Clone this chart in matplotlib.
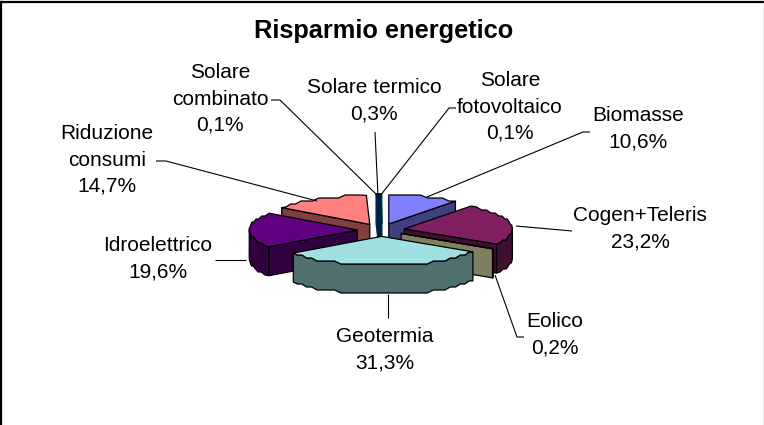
import numpy as np
import matplotlib
matplotlib.use("Agg")
import matplotlib.pyplot as plt
from matplotlib.patches import Polygon

plt.rcParams['font.family'] = ['Liberation Sans', 'DejaVu Sans']

title = "Risparmio energetico"
categories = ["Biomasse", "Cogen+Teleris", "Eolico", "Geotermia", "Idroelettrico",
              "Riduzione\nconsumi", "Solare\ncombinato", "Solare termico", "Solare\nfotovoltaico"]
values = [10.6, 23.2, 0.2, 31.3, 19.6, 14.7, 0.1, 0.3, 0.1]
value_labels = ["10,6%", "23,2%", "0,2%", "31,3%", "19,6%", "14,7%", "0,1%", "0,3%", "0,1%"]
top_colors = ["#8080FF", "#802060", "#FFFFC0", "#A0E0E0", "#600080", "#FF8080", "#0070C0", "#004080", "#00A0A0"]
side_colors = ["#404080", "#401030", "#808060", "#507070", "#300040", "#804040", "#003860", "#002040", "#005050"]

# Layout, in pixels of the 764x425 picture
CX, CY, RX, RY, DEPTH, EXPLODE, STEP = 381, 230, 108, 29, 29, 0.22, 3
label_pos = [(638, 129), (640, 229), (555, 335), (385, 350), (158, 259),
             (107, 160), (220, 99), (374, 101), (510, 107)]
leaders = [[(590, 132), (583, 132), (427, 197)],
           [(572, 231), (516, 226)],
           [(524, 337), (517, 337), (495, 275)],
           [(388, 318), (388, 294)],
           [(215, 260), (246, 260)],
           [(156, 161), (166, 161), (317, 201)],
           [(271, 100), (280, 100), (378, 196)],
           [(375, 132), (378, 196)],
           [(456, 108), (449, 108), (380, 196)]]
draw_order = [6, 8, 7, 5, 0, 4, 1, 2, 3]

fig = plt.figure(figsize=(7.64, 4.25), dpi=100, facecolor="white")
ax = fig.add_axes([0, 0, 1, 1])
ax.set_xlim(0, 764)
ax.set_ylim(425, 0)
ax.axis("off")


def pt(cx, cy, deg):
    a = np.radians(deg)
    return cx + RX * np.sin(a), cy - RY * np.cos(a)


def rim(cx, cy, a0, a1):
    """Arc with the coarse bumpy outline of the reference; end points stay exact."""
    t = np.linspace(a0, a1, max(3, int((a1 - a0) / 3.5)))
    xs, ys = pt(cx, cy, t)
    snapped = np.round(ys / STEP) * STEP
    snapped[0], snapped[-1] = ys[0], ys[-1]
    return xs, snapped


edges = np.cumsum([0] + values) / sum(values) * 360
for i in draw_order:
    a0, a1 = edges[i], edges[i + 1]
    mid = (a0 + a1) / 2
    ox, oy = pt(0, 0, mid)
    cx, cy = CX + EXPLODE * ox, CY + EXPLODE * oy
    small = values[i] < 0.2 or (values[i] < 0.5 and i != 2)
    kw = dict(edgecolor=side_colors[i] if small else "black",
              linewidth=2.2 if small else 0.9, joinstyle="round", zorder=3)
    # outer wall, only the part facing the viewer
    f0, f1 = max(a0, 90), min(a1, 270)
    if f1 > f0:
        xs, ys = rim(cx, cy, f0, f1)
        ax.add_patch(Polygon(np.r_[np.c_[xs, ys], np.c_[xs[::-1], ys[::-1] + DEPTH]],
                             facecolor=side_colors[i], **kw))
    # radial walls facing the viewer
    for ang, visible in ((a0, np.sin(np.radians(a0)) < 0), (a1, np.sin(np.radians(a1)) > 0)):
        if visible:
            x, y = pt(cx, cy, ang)
            ax.add_patch(Polygon([(cx, cy), (x, y), (x, y + DEPTH), (cx, cy + DEPTH)],
                                 facecolor=side_colors[i], **kw))
    # top face
    xs, ys = rim(cx, cy, a0, a1)
    ax.add_patch(Polygon(np.r_[[(cx, cy)], np.c_[xs, ys]], facecolor=top_colors[i], **kw))

for line in leaders:
    xs, ys = zip(*line)
    ax.plot(xs, ys, color="black", lw=0.8, solid_capstyle="butt", zorder=4)

for cat, val, (x, y) in zip(categories, value_labels, label_pos):
    ax.text(x, y, f"{cat}\n{val}", ha="center", va="center", fontsize=15,
            linespacing=1.49, color="black", zorder=5)

ax.text(384, 31, title, ha="center", va="center", fontsize=18.3, fontweight="bold", color="black")

# chart frame
ax.plot([1, 1], [425, 2], color="black", lw=1.6, zorder=6)
ax.plot([0, 764], [2, 2], color="black", lw=1.6, zorder=6)
ax.plot([763.5, 763.5], [2, 425], color="#b0b0b0", lw=1.0, zorder=6)

fig.savefig("out.png", dpi=100)
